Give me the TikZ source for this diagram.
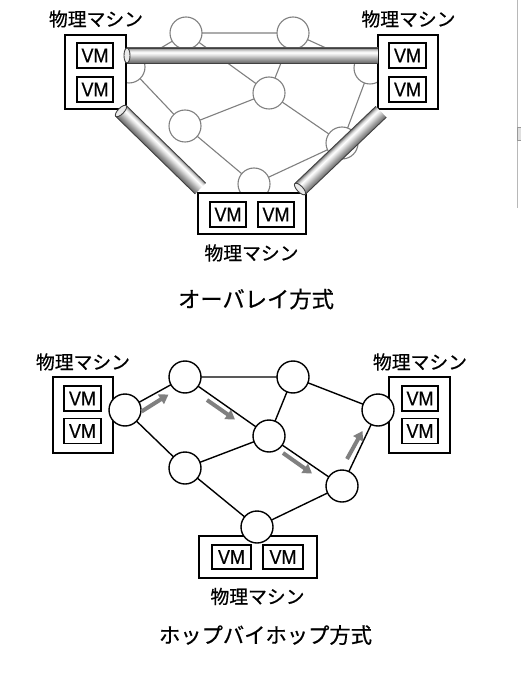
\documentclass[tikz,border=0pt]{standalone}
\usepackage{fontspec}
\newfontfamily\jp[FakeBold=0.6]{Noto Sans CJK JP}
\newfontfamily\vmfont[FakeBold=0.5]{Liberation Sans}
\usetikzlibrary{arrows.meta}
\pgfdeclareverticalshading{pipeshade}{100bp}{color(0bp)=(black!60); color(25bp)=(black!60); color(38bp)=(black!38); color(52bp)=(black!12); color(60bp)=(white); color(67bp)=(black!15); color(75bp)=(black!50); color(100bp)=(black!50)}
\newcommand\tube[4]{%
  \begin{scope}[transform canvas={shift={(#1,#2)},rotate=#3}]
    \shade[shading=pipeshade] (0,-7.5) rectangle (#4,7.5);
    \draw[black!75, line width=0.9pt] (0,-7.5) -- (#4,-7.5) (0,7.5) -- (#4,7.5);
    \filldraw[fill=black!8, draw=black!75, line width=0.9pt] (0,0) ellipse [x radius=3, y radius=7.5];
  \end{scope}}
\newcommand\vmtext{\scalebox{0.9}[1]{VM}}
\tikzset{
  tcirc/.style={circle, minimum size=32pt, inner sep=0pt, draw=black!50, fill=white, line width=1.1pt},
  bcirc/.style={circle, minimum size=32pt, inner sep=0pt, draw=black, fill=white, line width=1.4pt},
  tedge/.style={draw=black!50, line width=1.1pt},
  bedge/.style={draw=black, line width=1.4pt},
  physbox/.style={draw=black, fill=white, line width=1.9pt, inner sep=0pt},
  vmbox/.style={draw=black, fill=white, line width=1.7pt, inner sep=0pt, minimum height=25pt, font=\vmfont\fontsize{20}{22}\selectfont},
  lbl/.style={inner sep=0pt, font=\jp\fontsize{18.8}{20}\selectfont},
  hop/.style={draw=black!50, line width=4pt, -{Triangle[length=9pt,width=11pt]}},
}
\begin{document}
\begin{tikzpicture}[x=1pt,y=-1pt]
\useasboundingbox (0,0) rectangle (521,684);
\fill[white] (0,0) rectangle (521,684);
% scrollbar artefact at right edge
\draw[black!28, line width=1pt] (517.3,0) -- (517.3,208);
\filldraw[fill=black!12, draw=black!40, line width=0.6pt] (517.3,127) rectangle (521,140);

% ===== overlay (top) =====
\coordinate (qa) at (129,67);
\coordinate (qb) at (186,33);
\coordinate (qc) at (293,33);
\coordinate (qd) at (269,93);
\coordinate (qe) at (185,126);
\coordinate (qf) at (342,143);
\coordinate (qg) at (370,68);
\coordinate (qh) at (254,184);
\path[tedge] (qa) -- (qb) (qb) -- (qc) (qb) -- (qd) (qc) -- (qd) (qc) -- (qg)
  (qd) -- (qe) (qd) -- (qf) (qa) -- (qe) (qe) -- (qh) (qh) -- (qf) (qf) -- (qg);
\node[tcirc] (ta) at (qa) {};
\node[tcirc] (tb) at (qb) {};
\node[tcirc] (tc) at (qc) {};
\node[tcirc] (td) at (qd) {};
\node[tcirc] (te) at (qe) {};
\node[tcirc] (tf) at (qf) {};
\node[tcirc] (tg) at (qg) {};
\node[tcirc] (th) at (qh) {};

\node[physbox, minimum width=61pt, minimum height=74pt] (tpl) at (95.5,72) {};
\node[vmbox, minimum width=36pt] (tvl1) at (95,55.5) {\vmtext};
\node[vmbox, minimum width=36pt] (tvl2) at (95,89.5) {\vmtext};
\node[physbox, minimum width=60pt, minimum height=74pt] (tpr) at (408,72) {};
\node[vmbox, minimum width=37pt] (tvr1) at (407.5,55.5) {\vmtext};
\node[vmbox, minimum width=37pt] (tvr2) at (407.5,89.5) {\vmtext};
\node[physbox, minimum width=108pt, minimum height=41pt] (tpb) at (252,213.5) {};
\node[vmbox, minimum width=36pt] (tvb1) at (228,214.5) {\vmtext};
\node[vmbox, minimum width=36pt] (tvb2) at (276,214.5) {\vmtext};

\tube{127}{55.5}{0}{251}
\tube{121}{111}{-44.3}{111}
\tube{300}{189}{43.6}{112}

\node[lbl] (tll) at (96,19) {物理マシン};
\node[lbl] (tlr) at (408.5,19) {物理マシン};
\node[lbl] (tlb) at (251.5,253) {物理マシン};
\node[inner sep=0pt, font=\jp\fontsize{22.3}{24}\selectfont] (title1) at (256,299) {オーバレイ方式};

% ===== hop-by-hop (bottom) =====
\node[physbox, minimum width=60pt, minimum height=76pt] (bpl) at (83,415) {};
\node[vmbox, minimum width=37pt] (bvl1) at (82.5,398.5) {\vmtext};
\node[vmbox, minimum width=37pt] (bvl2) at (82.5,431) {\vmtext};
\node[physbox, minimum width=61pt, minimum height=76pt] (bpr) at (419.5,415) {};
\node[vmbox, minimum width=36pt] (bvr1) at (420,398.5) {\vmtext};
\node[vmbox, minimum width=36pt] (bvr2) at (420,431) {\vmtext};
\node[physbox, minimum width=118pt, minimum height=42pt] (bpb) at (258,557) {};
\node[vmbox, minimum width=39pt, minimum height=24pt] (bvb1) at (231.5,557) {\vmtext};
\node[vmbox, minimum width=40pt, minimum height=24pt] (bvb2) at (283,557) {\vmtext};

\coordinate (pa) at (125,410);
\coordinate (pb) at (185,377);
\coordinate (pc) at (293,377);
\coordinate (pd) at (269,436);
\coordinate (pe) at (185,468);
\coordinate (pf) at (342,486);
\coordinate (pg) at (378,410);
\coordinate (ph) at (257,527);
\path[bedge] (pa) -- (pb) (pb) -- (pc) (pb) -- (pd) (pc) -- (pd) (pc) -- (pg)
  (pd) -- (pe) (pd) -- (pf) (pa) -- (pe) (pe) -- (ph) (ph) -- (pf) (pf) -- (pg);
\node[bcirc] (ba) at (pa) {};
\node[bcirc] (bb) at (pb) {};
\node[bcirc] (bc) at (pc) {};
\node[bcirc] (bd) at (pd) {};
\node[bcirc] (be) at (pe) {};
\node[bcirc] (bf) at (pf) {};
\node[bcirc] (bg) at (pg) {};
\node[bcirc] (bh) at (ph) {};

\coordinate (h1s) at (141.5,411.5);
\coordinate (h1e) at (168.5,394.5);
\coordinate (h2s) at (207,400);
\coordinate (h2e) at (235,419.5);
\coordinate (h3s) at (283,453);
\coordinate (h3e) at (312,473.5);
\coordinate (h4s) at (347,459);
\coordinate (h4e) at (362.5,431);
\draw[hop] (h1s) -- (h1e);
\draw[hop] (h2s) -- (h2e);
\draw[hop] (h3s) -- (h3e);
\draw[hop] (h4s) -- (h4e);

\node[lbl] (bll) at (83,362) {物理マシン};
\node[lbl] (blr) at (420,362) {物理マシン};
\node[lbl] (blb) at (257.5,596.5) {物理マシン};
\node[inner sep=0pt, font=\jp\fontsize{21.3}{23}\selectfont] (title2) at (265.5,635) {ホップバイホップ方式};
\end{tikzpicture}
\end{document}
